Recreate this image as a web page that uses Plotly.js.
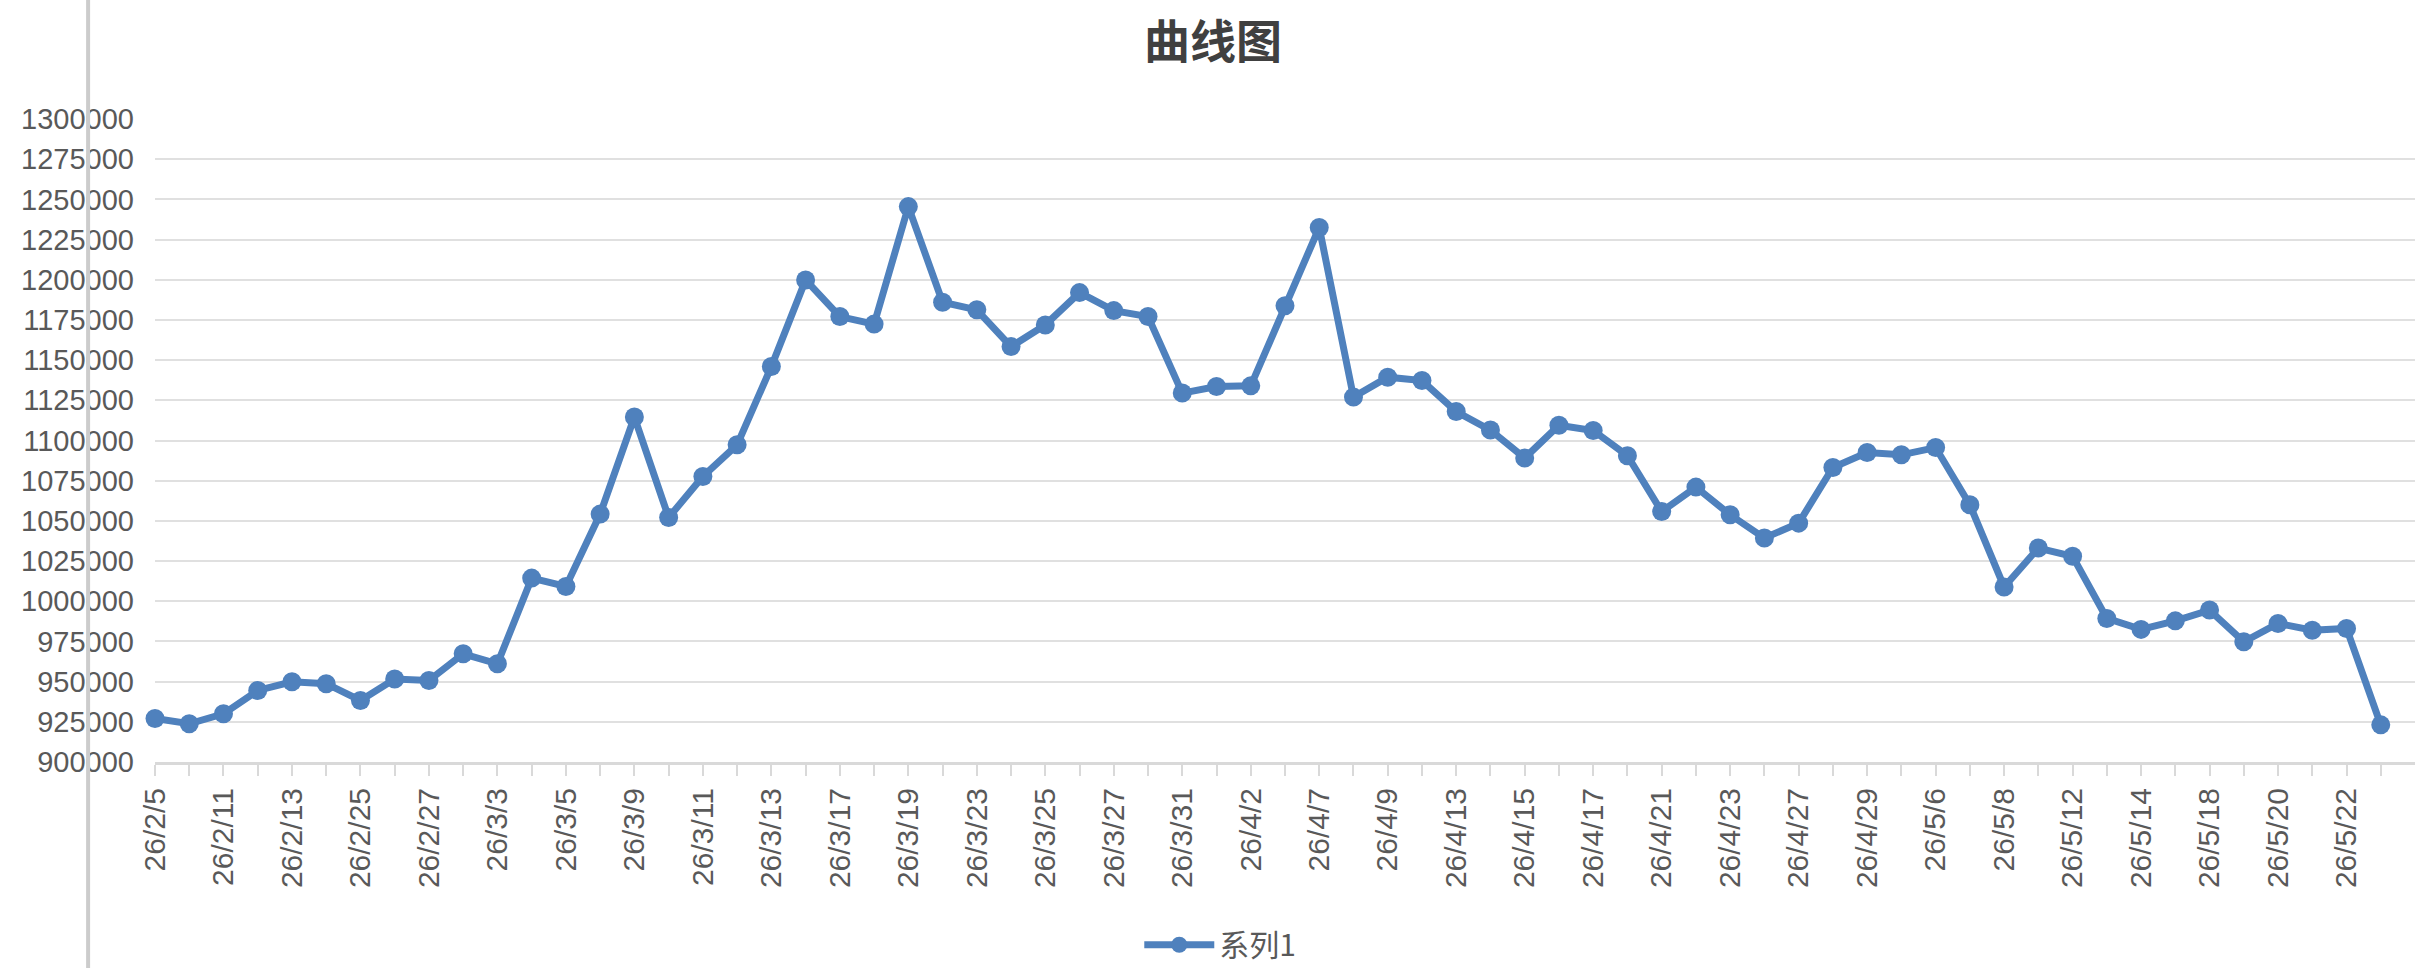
<!DOCTYPE html>
<html>
<head>
<meta charset="utf-8">
<script src="https://cdn.plot.ly/plotly-3.0.1.min.js"></script>
<style>
  html, body { margin: 0; padding: 0; background: #fff; }
  #chart { width: 2426px; height: 968px; }
</style>
</head>
<body>
<div id="chart"></div>
<script>
// trading dates (yy/m/d), every other one is labelled on the axis
var dates = [
  "26/2/5", "26/2/10", "26/2/11", "26/2/12", "26/2/13", "26/2/24", "26/2/25", "26/2/26",
  "26/2/27", "26/3/2", "26/3/3", "26/3/4", "26/3/5", "26/3/6", "26/3/9", "26/3/10",
  "26/3/11", "26/3/12", "26/3/13", "26/3/16", "26/3/17", "26/3/18", "26/3/19", "26/3/20",
  "26/3/23", "26/3/24", "26/3/25", "26/3/26", "26/3/27", "26/3/30", "26/3/31", "26/4/1",
  "26/4/2", "26/4/3", "26/4/7", "26/4/8", "26/4/9", "26/4/10", "26/4/13", "26/4/14",
  "26/4/15", "26/4/16", "26/4/17", "26/4/20", "26/4/21", "26/4/22", "26/4/23", "26/4/24",
  "26/4/27", "26/4/28", "26/4/29", "26/4/30", "26/5/6", "26/5/7", "26/5/8", "26/5/11",
  "26/5/12", "26/5/13", "26/5/14", "26/5/15", "26/5/18", "26/5/19", "26/5/20", "26/5/21",
  "26/5/22", "26/5/25"
];

// 系列1
var series1 = [
  927100, 923800, 930000, 944500, 949900, 948700, 938300, 951600,
  950700, 967300, 961100, 1014400, 1009200, 1054200, 1114600, 1052100,
  1077600, 1097300, 1146000, 1199900, 1177100, 1172400, 1245500, 1186000,
  1181300, 1158400, 1171900, 1192000, 1180800, 1177100, 1129500, 1133600,
  1134000, 1183800, 1232500, 1127000, 1139400, 1137300, 1118000, 1106500,
  1089100, 1109500, 1106200, 1090500, 1055800, 1071000, 1053800, 1039300,
  1048600, 1083200, 1092500, 1091100, 1095600, 1060000, 1008900, 1033100,
  1028000, 989300, 982500, 987800, 994500, 974800, 986200, 982000,
  983100, 923100
];

var yTicks = [900000, 925000, 950000, 975000, 1000000, 1025000, 1050000, 1075000,
  1100000, 1125000, 1150000, 1175000, 1200000, 1225000, 1250000, 1275000, 1300000];

var tickText = dates.map(function (d, i) { return i % 2 === 0 ? d : ""; });

var trace = {
  type: "scatter",
  mode: "lines+markers",
  name: "系列1",
  x: dates,
  y: series1,
  cliponaxis: false,
  line: { color: "#4F81BD", width: 7 },
  marker: { color: "#4F81BD", size: 19 }
};

var layout = {
  width: 2426,
  height: 968,
  paper_bgcolor: "#ffffff",
  plot_bgcolor: "#ffffff",
  margin: { l: 155, r: 11, t: 119, b: 206 },
  font: { family: "Liberation Sans, Arial, sans-serif", color: "#595959", size: 28 },
  title: {
    text: "<b>曲线图</b>",
    font: { family: "Noto Sans CJK SC, sans-serif", size: 46, color: "#404040" },
    x: 0.5, xanchor: "center",
    y: 0.957, yanchor: "middle"
  },
  xaxis: {
    type: "category",
    range: [0, dates.length],
    tickmode: "array",
    tickvals: dates,
    ticktext: tickText,
    tickangle: -90,
    ticks: "outside",
    ticklen: 11,
    tickwidth: 2,
    tickcolor: "#d9d9d9",
    showline: true,
    linecolor: "#d9d9d9",
    linewidth: 3,
    showgrid: false,
    zeroline: false,
    tickfont: { size: 30, color: "#595959" }
  },
  yaxis: {
    range: [900000, 1300000],
    tickmode: "array",
    tickvals: yTicks,
    ticktext: yTicks.map(String),
    showgrid: true,
    gridcolor: "#e0e0e0",
    gridwidth: 2,
    showline: false,
    zeroline: false,
    ticks: "",
    ticklabelstandoff: 20,
    tickfont: { size: 29, color: "#595959" }
  },
  showlegend: true,
  legend: {
    orientation: "h",
    xref: "container", yref: "container",
    x: 0.503, xanchor: "center",
    y: 0.024, yanchor: "middle",
    font: { family: "Noto Sans CJK SC, Liberation Sans, sans-serif", size: 30, color: "#595959" },
    itemwidth: 70
  },
  shapes: [
    {
      type: "line",
      xref: "paper", yref: "paper",
      x0: -0.0296, x1: -0.0296,
      y0: -0.33, y1: 1.2,
      line: { color: "#cccccc", width: 4 }
    }
  ]
};

Plotly.newPlot("chart", [trace], layout, { displayModeBar: false, staticPlot: true });
</script>
</body>
</html>
